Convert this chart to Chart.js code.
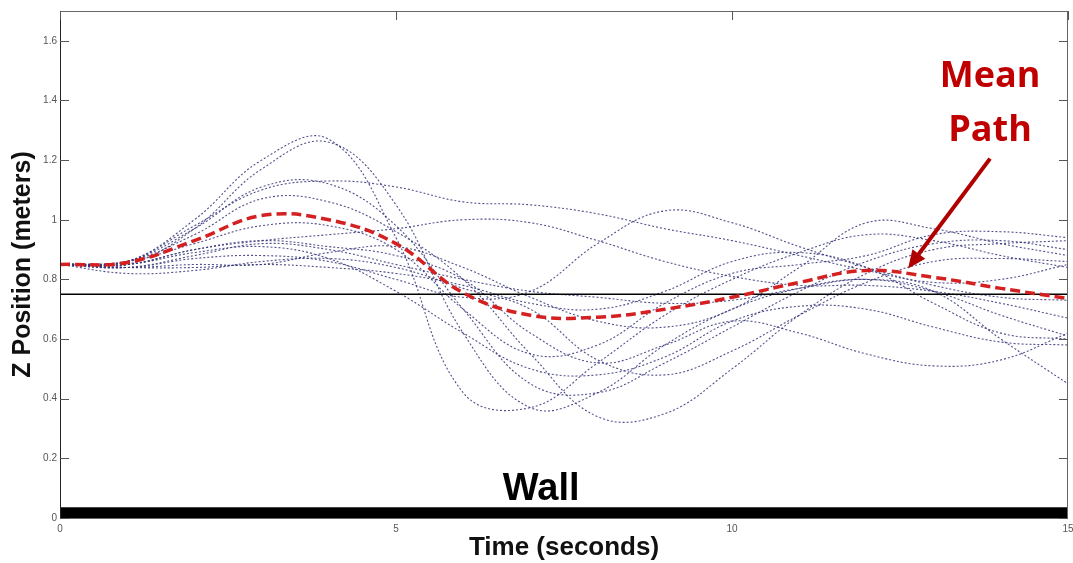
<!DOCTYPE html>
<html>
<head>
<meta charset="utf-8">
<script src="https://cdn.jsdelivr.net/npm/chart.js@4.4.1/dist/chart.umd.min.js"></script>
<style>
  html, body { margin: 0; padding: 0; background: #fff; }
  #wrap { width: 1073px; height: 563px; position: relative; }
</style>
</head>
<body>
<div id="wrap"><canvas id="c"></canvas></div>
<script>
// ---- data ----
const timeSec = [0,1,2,3,4,5,6,7,8,9,10,11,12,13,14,15];
const yTickValues = [0,0.2,0.4,0.6,0.8,1,1.2,1.4,1.6];
const xTickValues = [0,5,10,15];
const wallLevel = 0.75;
const wallThickness = 0.034;

const trial1  = [0.85,0.86,1.00,1.20,1.27,0.94,0.42,0.37,0.52,0.68,0.80,0.89,0.95,0.93,0.88,0.84];
const trial2  = [0.85,0.85,0.97,1.17,1.26,1.05,0.62,0.37,0.42,0.58,0.70,0.77,0.80,0.76,0.68,0.61];
const trial3  = [0.85,0.86,0.98,1.10,1.13,1.11,1.06,1.05,1.02,0.97,0.93,0.88,0.83,0.79,0.80,0.85];
const trial4  = [0.85,0.86,0.97,1.11,1.12,0.98,0.70,0.45,0.42,0.52,0.64,0.76,0.86,0.92,0.93,0.90];
const trial5  = [0.85,0.86,0.95,1.07,1.06,0.96,0.80,0.55,0.34,0.35,0.50,0.68,0.82,0.90,0.92,0.93];
const trial6  = [0.85,0.85,0.90,0.93,0.95,0.97,1.00,0.99,0.93,0.86,0.81,0.78,0.78,0.76,0.72,0.67];
const trial7  = [0.85,0.84,0.88,0.92,0.90,0.85,0.80,0.76,0.74,0.72,0.73,0.77,0.80,0.76,0.60,0.45];
const trial8  = [0.85,0.82,0.83,0.86,0.87,0.84,0.77,0.70,0.53,0.48,0.56,0.68,0.79,0.86,0.87,0.86];
const trial9  = [0.85,0.84,0.87,0.88,0.86,0.80,0.74,0.76,0.92,1.03,0.99,0.91,0.84,0.78,0.74,0.73];
const trial10 = [0.85,0.84,0.85,0.85,0.89,0.91,0.84,0.74,0.66,0.64,0.70,0.84,0.99,0.97,0.92,0.88];
const trial11 = [0.85,0.85,0.89,0.91,0.87,0.76,0.62,0.50,0.48,0.54,0.66,0.71,0.70,0.64,0.59,0.58];
const trial12 = [0.85,0.84,0.84,0.85,0.84,0.82,0.78,0.72,0.70,0.76,0.86,0.89,0.84,0.72,0.62,0.60];
const trial13 = [0.85,0.85,0.90,0.93,0.91,0.88,0.80,0.62,0.52,0.58,0.66,0.62,0.55,0.51,0.53,0.62];
const trial14 = [0.85,0.86,0.92,0.98,0.98,0.90,0.70,0.55,0.58,0.72,0.82,0.85,0.88,0.95,0.96,0.94];
const meanPath = [0.85,0.857,0.93,1.014,1.0,0.92,0.755,0.68,0.673,0.70,0.74,0.79,0.83,0.807,0.77,0.736];

const trials = [trial1,trial2,trial3,trial4,trial5,trial6,trial7,trial8,trial9,trial10,trial11,trial12,trial13,trial14];

const pts = arr => arr.map((v,i) => ({x: timeSec[i], y: v}));

const datasets = [];
datasets.push({
  data: pts(meanPath), borderColor: '#d42020', borderWidth: 3.5, borderDash: [10,5],
  pointRadius: 0, tension: 0.4, order: 0
});
datasets.push({
  data: [{x: timeSec[0], y: wallLevel}, {x: timeSec[timeSec.length-1], y: wallLevel}],
  borderColor: '#000', borderWidth: 1.5, pointRadius: 0, order: 1
});
trials.forEach(t => datasets.push({
  data: pts(t), borderColor: 'rgba(50,50,120,0.85)', borderWidth: 1.1, borderDash: [2,2],
  pointRadius: 0, tension: 0.4, order: 2
}));
datasets.push({
  data: [{x: timeSec[0], y: wallThickness}, {x: timeSec[timeSec.length-1], y: wallThickness}],
  borderColor: '#000', borderWidth: 1, backgroundColor: '#000', fill: 'origin', pointRadius: 0, order: 3
});

const FONT = "'Liberation Sans', Arial, sans-serif";

const decor = {
  id: 'decor',
  afterDatasetsDraw(chart) {
    const {ctx, chartArea: a, scales: {x, y}} = chart;
    ctx.save();
    // frame
    ctx.strokeStyle = '#666'; ctx.lineWidth = 1;
    ctx.strokeRect(a.left + 0.5, a.top + 0.5, a.right - a.left - 1, a.bottom - a.top);
    ctx.strokeStyle = '#222';
    ctx.beginPath(); ctx.moveTo(a.left + 0.5, a.top); ctx.lineTo(a.left + 0.5, a.bottom); ctx.stroke();
    // inward ticks
    ctx.strokeStyle = '#555';
    const L = 9;
    yTickValues.forEach(v => {
      const py = Math.round(y.getPixelForValue(v)) + 0.5;
      ctx.beginPath(); ctx.moveTo(a.left, py); ctx.lineTo(a.left + L, py); ctx.stroke();
      ctx.beginPath(); ctx.moveTo(a.right, py); ctx.lineTo(a.right - L, py); ctx.stroke();
    });
    xTickValues.forEach(v => {
      const px = Math.round(x.getPixelForValue(v)) + 0.5;
      ctx.beginPath(); ctx.moveTo(px, a.top); ctx.lineTo(px, a.top + L); ctx.stroke();
    });
    // annotations
    ctx.fillStyle = '#000';
    ctx.font = "bold 38px " + FONT;
    ctx.textAlign = 'center'; ctx.textBaseline = 'middle';
    ctx.fillText('Wall', x.getPixelForValue(7.16), y.getPixelForValue(0.095));

    ctx.fillStyle = '#c00000';
    ctx.font = "bold 36px 'Open Sans', " + FONT;
    ctx.fillText('Mean', x.getPixelForValue(13.84), y.getPixelForValue(1.478));
    ctx.fillText('Path', x.getPixelForValue(13.84), y.getPixelForValue(1.300));

    // arrow
    const x1 = x.getPixelForValue(13.84), y1 = y.getPixelForValue(1.205);
    const x2 = x.getPixelForValue(12.62), y2 = y.getPixelForValue(0.837);
    const ang = Math.atan2(y2 - y1, x2 - x1);
    ctx.strokeStyle = '#b00000'; ctx.fillStyle = '#b00000'; ctx.lineWidth = 4;
    ctx.beginPath(); ctx.moveTo(x1, y1);
    ctx.lineTo(x2 - 12 * Math.cos(ang), y2 - 12 * Math.sin(ang)); ctx.stroke();
    ctx.beginPath();
    ctx.moveTo(x2, y2);
    ctx.lineTo(x2 - 18 * Math.cos(ang) + 8 * Math.sin(ang), y2 - 18 * Math.sin(ang) - 8 * Math.cos(ang));
    ctx.lineTo(x2 - 18 * Math.cos(ang) - 8 * Math.sin(ang), y2 - 18 * Math.sin(ang) + 8 * Math.cos(ang));
    ctx.closePath(); ctx.fill();
    ctx.restore();
  }
};

new Chart(document.getElementById('c'), {
  type: 'line',
  data: { datasets },
  options: {
    responsive: true, maintainAspectRatio: false, animation: false,
    layout: { padding: { top: 11, right: 5, left: 0, bottom: 0 } },
    plugins: { legend: { display: false }, tooltip: { enabled: false } },
    scales: {
      x: {
        type: 'linear', min: 0, max: 15,
        grid: { display: false, drawTicks: false },
        border: { display: false },
        afterBuildTicks: s => { s.ticks = xTickValues.map(v => ({value: v})); },
        afterFit: s => { s.height = 45; s.paddingLeft = 0; s.paddingRight = 0; },
        ticks: { color: '#555', font: { family: FONT, size: 10 }, padding: 5, maxRotation: 0,
                 callback: v => String(v) },
        title: { display: true, text: 'Time (seconds)', color: '#111',
                 font: { family: FONT, size: 26, weight: 'bold' }, padding: { top: 0, bottom: 0 } }
      },
      y: {
        type: 'linear', min: 0, max: 1.7,
        grid: { display: false, drawTicks: false },
        border: { display: false },
        afterBuildTicks: s => { s.ticks = yTickValues.map(v => ({value: v})); },
        afterFit: s => { s.width = 60; },
        ticks: { color: '#555', font: { family: FONT, size: 10 }, padding: 3,
                 callback: v => String(+v.toFixed(1)) },
        title: { display: true, text: 'Z Position (meters)', color: '#111',
                 font: { family: FONT, size: 25, weight: 'bold' }, padding: { top: 8, bottom: 0 } }
      }
    }
  },
  plugins: [decor]
});
</script>
</body>
</html>
